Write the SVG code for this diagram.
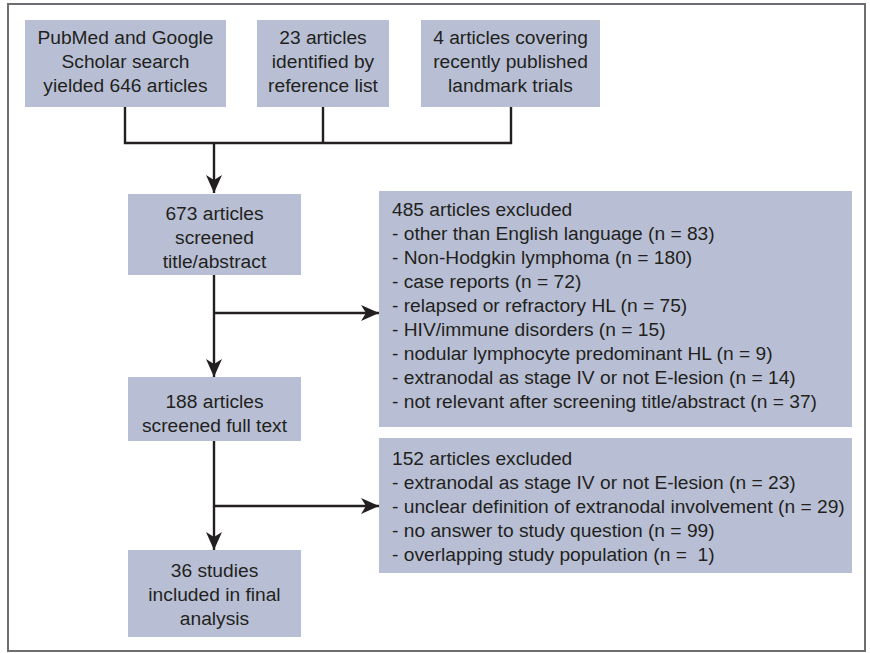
<svg xmlns="http://www.w3.org/2000/svg" width="870" height="653" viewBox="0 0 870 653">
<style>
.box{fill:#b8bfd4}
.t{font-family:"Liberation Sans",Arial,sans-serif;font-size:19.2px;fill:#231f20;white-space:pre}
.c{text-anchor:middle}
.ln{stroke:#231f20;stroke-width:2.4;fill:none}
</style>
<defs>
<marker id="ah" viewBox="0 0 18 16" refX="18" refY="8" markerWidth="18" markerHeight="16" markerUnits="userSpaceOnUse" orient="auto">
<path d="M0,0 L18,8 L0,16 L5,8 z" fill="#231f20"/>
</marker>
</defs>
<rect x="8" y="4" width="857" height="647" fill="#fff" stroke="#6d6e71" stroke-width="2"/>
<g id="connectors">
<path class="ln" d="M125,107 V143 H511 V107 M323,107 V143"/>
<path class="ln" d="M214,143 V193" marker-end="url(#ah)"/>
<path class="ln" d="M214,275 V377" marker-end="url(#ah)"/>
<path class="ln" d="M214,313 H379" marker-end="url(#ah)"/>
<path class="ln" d="M214,441 V550" marker-end="url(#ah)"/>
<path class="ln" d="M214,506 H379" marker-end="url(#ah)"/>
</g>
<g id="n_pubmed">
<rect class="box" x="25" y="20" width="201" height="87"/>
<text class="t c" x="125.5" y="44">PubMed and Google</text>
<text class="t c" x="125.5" y="68">Scholar search</text>
<text class="t c" x="125.5" y="92">yielded 646 articles</text>
</g>
<g id="n_reflist">
<rect class="box" x="257" y="20" width="132" height="87"/>
<text class="t c" x="323" y="44">23 articles</text>
<text class="t c" x="323" y="68">identified by</text>
<text class="t c" x="323" y="92">reference list</text>
</g>
<g id="n_landmark">
<rect class="box" x="421" y="20" width="179" height="87"/>
<text class="t c" x="510.5" y="44">4 articles covering</text>
<text class="t c" x="510.5" y="68">recently published</text>
<text class="t c" x="510.5" y="92">landmark trials</text>
</g>
<g id="n_screened">
<rect class="box" x="128" y="194" width="173" height="81"/>
<text class="t c" x="214.5" y="220">673 articles</text>
<text class="t c" x="214.5" y="244">screened</text>
<text class="t c" x="214.5" y="268">title/abstract</text>
</g>
<g id="n_excl485">
<rect class="box" x="379" y="191" width="473" height="236"/>
<text class="t" x="392" y="216">485 articles excluded</text>
<text class="t" x="392" y="240">- other than English language (n = 83)</text>
<text class="t" x="392" y="264">- Non-Hodgkin lymphoma (n = 180)</text>
<text class="t" x="392" y="288">- case reports (n = 72)</text>
<text class="t" x="392" y="312">- relapsed or refractory HL (n = 75)</text>
<text class="t" x="392" y="336">- HIV/immune disorders (n = 15)</text>
<text class="t" x="392" y="360">- nodular lymphocyte predominant HL (n = 9)</text>
<text class="t" x="392" y="384">- extranodal as stage IV or not E-lesion (n = 14)</text>
<text class="t" x="392" y="408">- not relevant after screening title/abstract (n = 37)</text>
</g>
<g id="n_fulltext">
<rect class="box" x="128" y="377" width="173" height="64"/>
<text class="t c" x="214.5" y="408">188 articles</text>
<text class="t c" x="214.5" y="432">screened full text</text>
</g>
<g id="n_excl152">
<rect class="box" x="379" y="438" width="473" height="135"/>
<text class="t" x="392" y="465">152 articles excluded</text>
<text class="t" x="392" y="489">- extranodal as stage IV or not E-lesion (n = 23)</text>
<text class="t" x="392" y="513">- unclear definition of extranodal involvement (n = 29)</text>
<text class="t" x="392" y="537">- no answer to study question (n = 99)</text>
<text class="t" x="392" y="561">- overlapping study population (n =  1)</text>
</g>
<g id="n_final">
<rect class="box" x="128" y="550" width="173" height="87"/>
<text class="t c" x="214.5" y="577">36 studies</text>
<text class="t c" x="214.5" y="601">included in final</text>
<text class="t c" x="214.5" y="625">analysis</text>
</g>
</svg>
